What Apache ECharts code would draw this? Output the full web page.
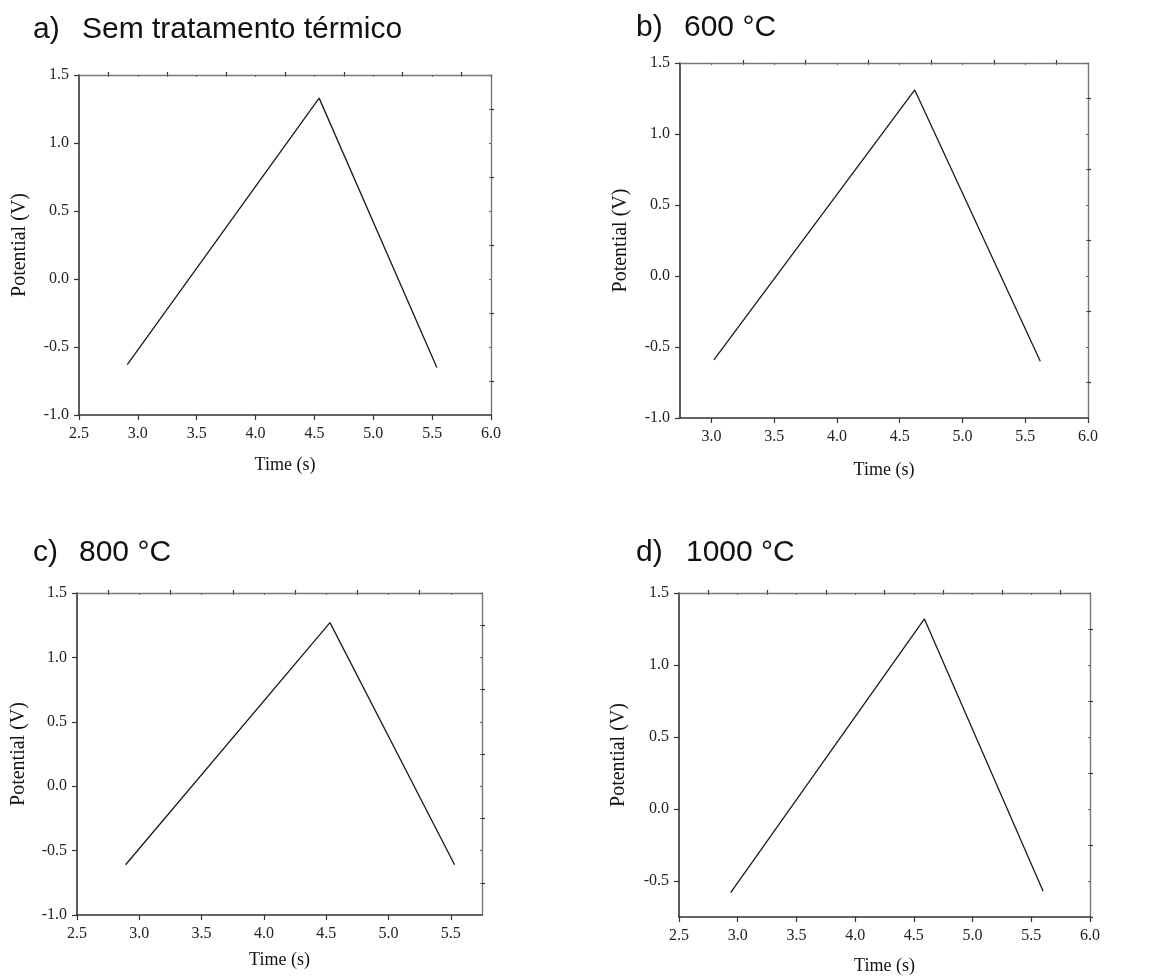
<!DOCTYPE html>
<html>
<head>
<meta charset="utf-8">
<script src="https://cdn.jsdelivr.net/npm/echarts@6/dist/echarts.min.js"></script>
<style>
  html, body { margin: 0; padding: 0; background: #fff; }
  #chart { width: 1158px; height: 976px; }
</style>
</head>
<body>
<div id="chart"></div>
<script>
// panel titles
const letters = ["a)", "b)", "c)", "d)"];
const names = ["Sem tratamento térmico", "600 °C", "800 °C", "1000 °C"];

// vertices of each triangular potential curve
const timeA = [2.91, 4.54, 5.54];
const potA = [-0.63, 1.33, -0.65];
const timeB = [3.02, 4.62, 5.62];
const potB = [-0.59, 1.31, -0.60];
const timeC = [2.89, 4.53, 5.53];
const potC = [-0.61, 1.27, -0.61];
const timeD = [2.94, 4.59, 5.60];
const potD = [-0.58, 1.32, -0.57];

// axis ticks
const xTicksA = [2.5, 3.0, 3.5, 4.0, 4.5, 5.0, 5.5, 6.0];
const xMinorA = [2.75, 3.25, 3.75, 4.25, 4.75, 5.25, 5.75];
const xTicksB = [3.0, 3.5, 4.0, 4.5, 5.0, 5.5, 6.0];
const xMinorB = [3.25, 3.75, 4.25, 4.75, 5.25, 5.75];
const xTicksC = [2.5, 3.0, 3.5, 4.0, 4.5, 5.0, 5.5];
const xMinorC = [2.75, 3.25, 3.75, 4.25, 4.75, 5.25];
const yTicks = [-1.0, -0.5, 0.0, 0.5, 1.0, 1.5];
const yMinor = [-0.75, -0.25, 0.25, 0.75, 1.25];
const yTicksD = [-0.5, 0.0, 0.5, 1.0, 1.5];
const yMinorD = [-0.75, -0.25, 0.25, 0.75, 1.25];

const panels = [
  { x: timeA, y: potA, grid: { left: 79, top: 75, width: 412, height: 340 },
    xMin: 2.5, xMax: 6.0, xT: xTicksA, xM: xMinorA, yMin: -1.0, yMax: 1.5, yT: yTicks, yM: yMinor,
    title: { left: 33, nameLeft: 82, top: 15 }, xGap: 41, yGap: 49 },
  { x: timeB, y: potB, grid: { left: 680, top: 63, width: 408, height: 355 },
    xMin: 2.75, xMax: 6.0, xT: xTicksB, xM: xMinorB, yMin: -1.0, yMax: 1.5, yT: yTicks, yM: yMinor,
    title: { left: 636, nameLeft: 684, top: 13 }, xGap: 43, yGap: 49 },
  { x: timeC, y: potC, grid: { left: 77, top: 593, width: 405, height: 322 },
    xMin: 2.5, xMax: 5.75, xT: xTicksC, xM: xMinorC, yMin: -1.0, yMax: 1.5, yT: yTicks, yM: yMinor,
    title: { left: 33, nameLeft: 79, top: 538 }, xGap: 36, yGap: 48 },
  { x: timeD, y: potD, grid: { left: 679, top: 593, width: 411, height: 327 },
    xMin: 2.5, xMax: 6.0, xT: xTicksA, xM: xMinorA, yMin: -0.75, yMax: 1.5, yT: yTicksD, yM: yMinorD,
    title: { left: 636, nameLeft: 686, top: 538 }, xGap: 40, yGap: 50 }
];

const axisColor = "#333";
const serif = "Liberation Serif";
const fmt = (v) => v.toFixed(1);
const titleFont = { fontFamily: "Liberation Sans", fontSize: 30, fontWeight: "normal", color: "#111" };

let grid = [], xAxis = [], yAxis = [], series = [], title = [];

panels.forEach((p, i) => {
  grid.push(p.grid);
  title.push({ text: letters[i], left: p.title.left, top: p.title.top, padding: 0, textStyle: titleFont });
  title.push({ text: names[i], left: p.title.nameLeft, top: p.title.top, padding: 0, textStyle: titleFont });

  // main x axis with labels and major ticks
  const xi = xAxis.length;
  xAxis.push({
    type: "value", gridIndex: i, min: p.xMin, max: p.xMax,
    name: "Time (s)", nameLocation: "middle", nameGap: p.xGap,
    nameTextStyle: { fontFamily: serif, fontSize: 18, color: "#111" },
    axisLine: { onZero: false, lineStyle: { color: axisColor, width: 1.6 } },
    axisTick: { customValues: p.xT, length: 5, lineStyle: { color: axisColor, width: 1.2 } },
    axisLabel: { customValues: p.xT, formatter: fmt, margin: 11, fontFamily: serif, fontSize: 16, color: "#222" },
    splitLine: { show: false }
  });
  // minor x ticks
  xAxis.push({
    type: "value", gridIndex: i, min: p.xMin, max: p.xMax,
    axisLine: { show: false, onZero: false },
    axisTick: { customValues: p.xM, length: 3, lineStyle: { color: axisColor, width: 1.2 } },
    axisLabel: { show: false }, splitLine: { show: false }
  });
  // top mirror
  xAxis.push({
    type: "value", gridIndex: i, min: p.xMin, max: p.xMax, position: "top",
    axisLine: { onZero: false, lineStyle: { color: "#777", width: 1.4 } },
    axisTick: { inside: true, customValues: p.xT.concat(p.xM), length: 2, lineStyle: { color: "#666" } },
    axisLabel: { show: false }, splitLine: { show: false }
  });

  const yi = yAxis.length;
  yAxis.push({
    type: "value", gridIndex: i, min: p.yMin, max: p.yMax,
    name: "Potential (V)", nameLocation: "middle", nameGap: p.yGap,
    nameTextStyle: { fontFamily: serif, fontSize: 20, color: "#111" },
    axisLine: { onZero: false, lineStyle: { color: axisColor, width: 1.6 } },
    axisTick: { customValues: p.yT, length: 5, lineStyle: { color: axisColor, width: 1.2 } },
    axisLabel: { customValues: p.yT, formatter: fmt, margin: 10, fontFamily: serif, fontSize: 16, color: "#222" },
    splitLine: { show: false }
  });
  yAxis.push({
    type: "value", gridIndex: i, min: p.yMin, max: p.yMax,
    axisLine: { show: false, onZero: false },
    axisTick: { customValues: p.yM, length: 3, lineStyle: { color: axisColor, width: 1.2 } },
    axisLabel: { show: false }, splitLine: { show: false }
  });
  yAxis.push({
    type: "value", gridIndex: i, min: p.yMin, max: p.yMax, position: "right",
    axisLine: { onZero: false, lineStyle: { color: "#777", width: 1.4 } },
    axisTick: { inside: true, customValues: p.yT.concat(p.yM), length: 2, lineStyle: { color: "#666" } },
    axisLabel: { show: false }, splitLine: { show: false }
  });

  series.push({
    type: "line",
    xAxisIndex: xi,
    yAxisIndex: yi,
    data: p.x.map((t, k) => [t, p.y[k]]),
    showSymbol: false,
    lineStyle: { color: "#1a1a1a", width: 1.3 },
    animation: false
  });
});

const myChart = echarts.init(document.getElementById("chart"));
myChart.setOption({
  animation: false,
  title,
  grid,
  xAxis,
  yAxis,
  series
});
</script>
</body>
</html>
